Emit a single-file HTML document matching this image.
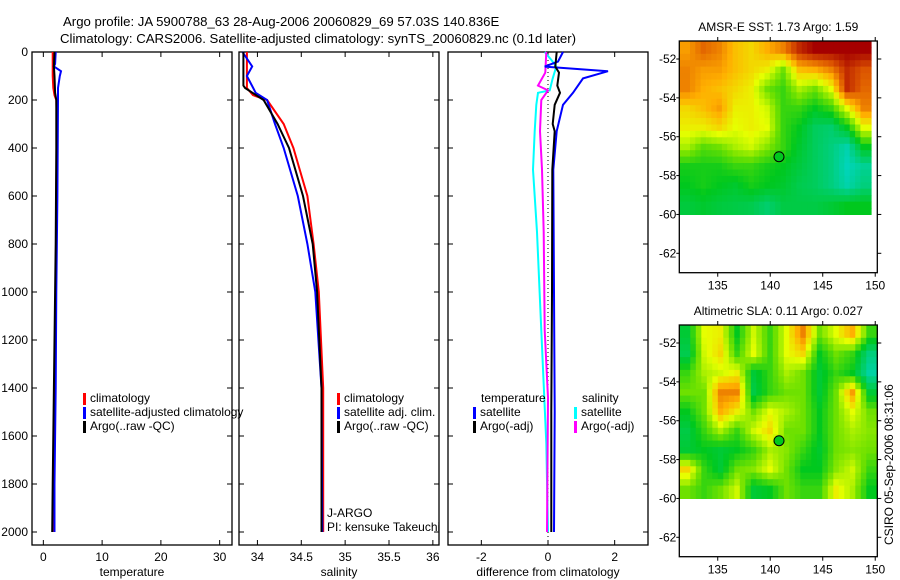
<!DOCTYPE html>
<html><head><meta charset="utf-8"><style>
html,body{margin:0;padding:0;background:#fff;}
svg{display:block;font-family:"Liberation Sans",sans-serif;}
text{font-size:12px;fill:#000;}
</style></head><body>
<svg id="chart" width="900" height="580" viewBox="0 0 900 580">
<text x="63" y="26" style="font-size:13.2px">Argo profile: JA 5900788_63 28-Aug-2006 20060829_69 57.03S 140.836E</text>
<text x="60" y="43" style="font-size:13.2px">Climatology: CARS2006. Satellite-adjusted climatology: synTS_20060829.nc (0.1d later)</text>
<text x="893" y="545" transform="rotate(-90 893 545)">CSIRO 05-Sep-2006 08:31:06</text>
</svg>
<script>
const NS="http://www.w3.org/2000/svg";
const svg=document.getElementById('chart');
// ---- data ----
const depthTicks=[0,200,400,600,800,1000,1200,1400,1600,1800,2000];
const tempTicks=[0,10,20,30];
const salTicks=[34,34.5,35,35.5,36];
const salTickLabels=["34","34.5","35","35.5","36"];
const diffTicks=[-2,0,2];
const tempClimDepth=[0,100,150,180,200,300,600,1000,1400,1800,2000];
const tempClimVal=[1.6,1.6,1.7,1.9,2.2,2.3,2.2,2.1,1.9,1.7,1.6];
const tempSatDepth=[0,50,60,80,100,150,200,600,1000,1400,1800,2000];
const tempSatVal=[2.1,2.0,1.8,3.0,2.8,2.5,2.5,2.4,2.2,2.1,1.9,1.9];
const tempArgoDepth=[0,60,100,170,200,400,800,1000,1400,1800,2000];
const tempArgoVal=[1.9,1.8,1.9,2.0,2.2,2.2,2.1,2.0,1.8,1.6,1.5];
const salClimDepth=[0,150,180,200,300,400,500,600,800,1000,1400,2000];
const salClimVal=[33.88,33.88,33.95,34.11,34.30,34.41,34.49,34.57,34.64,34.70,34.75,34.75];
const salSatDepth=[0,60,100,170,200,300,400,600,800,1000,1400,2000];
const salSatVal=[33.83,33.94,33.88,33.98,34.11,34.20,34.30,34.46,34.57,34.66,34.73,34.74];
const salArgoDepth=[0,140,150,200,300,400,600,800,1000,1400,2000];
const salArgoVal=[33.84,33.84,33.86,34.07,34.23,34.36,34.52,34.63,34.68,34.73,34.73];
const dTempSatDepth=[0,40,61,80,110,170,220,330,490,1000,1500,2000];
const dTempSatVal=[0.45,0.3,-0.1,1.8,1.05,0.75,0.45,0.26,0.16,0.18,0.2,0.18];
const dTempArgoDepth=[0,61,86,140,170,220,300,330,490,1000,1500,2000];
const dTempArgoVal=[0.26,0.22,0.33,0.28,0.36,0.2,0.14,0.2,0.13,0.12,0.1,0.1];
const dSalSatDepth=[0,33,61,110,160,170,220,330,490,750,1160,1630,2000];
const dSalSatVal=[-0.1,0.1,0.25,0.14,0.05,-0.3,-0.35,-0.4,-0.45,-0.33,-0.2,-0.05,0.0];
const dSalArgoDepth=[0,86,140,160,200,330,490,750,1160,1440,2000];
const dSalArgoVal=[-0.05,-0.08,-0.3,0.0,-0.2,-0.24,-0.18,-0.13,-0.1,0.0,-0.03];
const lonTicks=[135,140,145,150];
const latTicks=[-52,-54,-56,-58,-60,-62];
const argoLon=140.836, argoLat=-57.03;
const sstGrid=[
[.82,.88,.85,.78,.75,.8,.85,.95,1,1,1,1],
[.85,.82,.82,.78,.75,.72,.6,.78,.8,.85,.95,.9],
[.85,.8,.78,.75,.72,.6,.55,.65,.6,.7,.95,.88],
[.75,.78,.82,.72,.72,.68,.55,.55,.5,.55,.7,.85],
[.72,.72,.75,.7,.72,.7,.55,.5,.42,.4,.5,.7],
[.65,.58,.6,.65,.68,.62,.55,.48,.42,.38,.32,.5],
[.52,.52,.52,.55,.55,.52,.5,.46,.42,.38,.3,.35],
[.5,.52,.5,.48,.52,.5,.48,.44,.42,.38,.32,.38],
[.46,.48,.46,.45,.44,.4,.45,.45,.45,.47,.5,.5]];
const slaGrid=[
[.47,.7,.72,.5,.68,.55,.7,.85,.6,.7,.8,.55],
[.44,.68,.75,.55,.7,.55,.7,.75,.5,.6,.55,.38],
[.55,.65,.68,.72,.47,.55,.65,.6,.47,.55,.5,.33],
[.6,.6,.85,.85,.45,.55,.6,.6,.47,.6,.82,.47],
[.5,.6,.8,.72,.6,.7,.65,.6,.5,.6,.7,.6],
[.45,.55,.65,.55,.68,.75,.6,.6,.5,.6,.65,.62],
[.47,.5,.47,.5,.55,.65,.62,.55,.48,.6,.62,.6],
[.75,.55,.47,.6,.62,.7,.6,.5,.5,.62,.68,.55],
[.6,.55,.6,.68,.47,.5,.6,.55,.55,.72,.65,.5]];
// ---- helpers ----
function mk(tag,attrs,parent){const e=document.createElementNS(NS,tag);for(const k in attrs)e.setAttribute(k,attrs[k]);(parent||svg).appendChild(e);return e;}
const TOP=52,BOT=545;
const yD=d=>TOP+d*0.24;
function panel(name,left,right,xmin,xmax,ticks,labels,xlabel,showY){
  const sx=v=>left+(v-xmin)/(xmax-xmin)*(right-left);
  const g=mk('g',{});
  
  
  const r=mk('rect',{x:left,y:TOP,width:right-left,height:BOT-TOP,fill:'none',stroke:'#000','stroke-width':1.3},g);
  
  
  ticks.forEach((t,i)=>{
    const x=sx(t);
    mk('line',{x1:x,y1:TOP,x2:x,y2:TOP+5,stroke:'#000'},g);
    mk('line',{x1:x,y1:BOT,x2:x,y2:BOT-5,stroke:'#000'},g);
    const tx=mk('text',{x:x,y:BOT+16,'text-anchor':'middle'},g);
    tx.textContent=labels[i];
    
    
  });
  depthTicks.forEach(d=>{
    const y=yD(d);
    mk('line',{x1:left,y1:y,x2:left+5,y2:y,stroke:'#000'},g);
    mk('line',{x1:right,y1:y,x2:right-5,y2:y,stroke:'#000'},g);
    if(showY){const tx=mk('text',{x:left-4,y:y+4,'text-anchor':'end'},g);tx.textContent=d;
      
      }
  });
  const xl=mk('text',{x:(left+right)/2,y:BOT+31,'text-anchor':'middle'},g);
  xl.textContent=xlabel;
  
  
  return sx;
}
function line(sx,depths,vals,color,name,w){
  let d='';depths.forEach((dp,i)=>{d+=(i?'L':'M')+sx(vals[i]).toFixed(1)+','+yD(dp).toFixed(1);});
  const p=mk('path',{d:d,fill:'none',stroke:color,'stroke-width':w||2});
  
  
}
function legend(x,y,color,label,name){
  if(color){mk('rect',{x:x,y:y-9,width:3,height:12,fill:color});}
  const t=mk('text',{x:x+7,y:y});t.textContent=label;
  
  
}
// ---- panel 1 temperature ----
const sT=panel('temperature-panel',32,232,-1.93,32.1,tempTicks,tempTicks.map(String),'temperature',true);
line(sT,tempClimDepth,tempClimVal,'#f00','temp-climatology-line');
line(sT,tempSatDepth,tempSatVal,'#00f','temp-satellite-line');
line(sT,tempArgoDepth,tempArgoVal,'#000','temp-argo-line');
legend(83,402,'#f00','climatology','legend-climatology');
legend(83,416,'#00f','satellite-adjusted climatology','legend-satellite-adjusted');
legend(83,430,'#000','Argo(..raw -QC)','legend-argo');
// ---- panel 2 salinity ----
const sS=panel('salinity-panel',239,439,33.79,36.07,salTicks,salTickLabels,'salinity',false);
line(sS,salClimDepth,salClimVal,'#f00','sal-climatology-line');
line(sS,salSatDepth,salSatVal,'#00f','sal-satellite-line');
line(sS,salArgoDepth,salArgoVal,'#000','sal-argo-line');
legend(337,402,'#f00','climatology','legend-sal-climatology');
legend(337,416,'#00f','satellite adj. clim.','legend-sal-satellite');
legend(337,430,'#000','Argo(..raw -QC)','legend-sal-argo');
legend(320,517,null,'J-ARGO','pi-agency');
legend(320,531,null,'PI: kensuke Takeuchi','pi-name');
// ---- panel 3 difference ----
const sD=panel('difference-panel',448,648,-3,3,diffTicks,diffTicks.map(String),'difference from climatology',false);
const z=mk('line',{x1:sD(0),y1:TOP,x2:sD(0),y2:BOT,stroke:'#000','stroke-dasharray':'1,3'});


line(sD,dSalSatDepth,dSalSatVal,'#0ff','diff-sal-satellite-line');
line(sD,dSalArgoDepth,dSalArgoVal,'#f0f','diff-sal-argo-line');
line(sD,dTempSatDepth,dTempSatVal,'#00f','diff-temp-satellite-line');
line(sD,dTempArgoDepth,dTempArgoVal,'#000','diff-temp-argo-line');
legend(474,402,null,'temperature','legend-temperature-head');
legend(473,416,'#00f','satellite','legend-diff-temp-sat');
legend(473,430,'#000','Argo(-adj)','legend-diff-temp-argo');
legend(575,402,null,'salinity','legend-salinity-head');
legend(574,416,'#0ff','satellite','legend-diff-sal-sat');
legend(574,430,'#f0f','Argo(-adj)','legend-diff-sal-argo');
// ---- maps ----
const stops=[[0,[0,110,255]],[.25,[0,215,225]],[.5,[0,200,30]],[.6,[110,225,0]],[.7,[230,255,0]],[.8,[255,175,0]],[.9,[220,85,0]],[1,[165,0,0]]];
function cmap(v){for(let i=1;i<stops.length;i++){if(v<=stops[i][0]){const a=stops[i-1],b=stops[i],t=(v-a[0])/(b[0]-a[0]);return 'rgb('+a[1].map((c,k)=>Math.round(c+(b[1][k]-c)*t)).join(',')+')';}}return 'rgb(165,0,0)';}
function sample(grid,r,c){ // bilinear sample at fractional cell coords (cell centers at integer+0.5)
  const R=grid.length,C=grid[0].length;
  let y=Math.min(Math.max(r-0.5,0),R-1),x=Math.min(Math.max(c-0.5,0),C-1);
  const y0=Math.floor(y),x0=Math.floor(x),y1=Math.min(y0+1,R-1),x1=Math.min(x0+1,C-1),fy=y-y0,fx=x-x0;
  return grid[y0][x0]*(1-fx)*(1-fy)+grid[y0][x1]*fx*(1-fy)+grid[y1][x0]*(1-fx)*fy+grid[y1][x1]*fx*fy;
}
function map(name,title,top,grid,lonEnd){
  const L=679.3,R=877.3,B=top+231.7;
  const sx=lon=>L+(lon-131.34)*10.5;
  const sy=lat=>top+18+(-52-lat)*19.43;
  const g=mk('g',{});
  
  
  const rows=grid.length,cols=grid[0].length,S=3;
  const lonW=(lonEnd-131.34)/(cols*S);
  for(let ri=0;ri<rows*S;ri++)for(let ci=0;ci<cols*S;ci++){
    const v=sample(grid,(ri+0.5)/S,(ci+0.5)/S);
    const x0=sx(131.34+ci*lonW),x1=sx(131.34+(ci+1)*lonW);
    const latA=-51.07-ri/S*(8.93/rows), latB=-51.07-(ri+1)/S*(8.93/rows);
    const yTop=sy(latA),y1=sy(latB);
    const c=mk('rect',{x:x0.toFixed(1),y:yTop.toFixed(1),width:(x1-x0+0.6).toFixed(1),height:(y1-yTop+0.6).toFixed(1),fill:cmap(v)},g);
    
    
  }
  const fr=mk('rect',{x:L,y:top,width:R-L,height:B-top,fill:'none',stroke:'#000','stroke-width':1.3},g);
  
  
  lonTicks.forEach(t=>{const x=sx(t);mk('line',{x1:x,y1:top,x2:x,y2:top-4,stroke:'#000'},g);mk('line',{x1:x,y1:B,x2:x,y2:B+4,stroke:'#000'},g);
    const tx=mk('text',{x:x,y:B+17,'text-anchor':'middle'},g);tx.textContent=t;
    
    });
  latTicks.forEach(t=>{const y=sy(t);mk('line',{x1:L,y1:y,x2:L-3,y2:y,stroke:'#000'},g);mk('line',{x1:R,y1:y,x2:R+4,y2:y,stroke:'#000'},g);
    const tx=mk('text',{x:L-3,y:y+4,'text-anchor':'end'},g);tx.textContent=t;
    
    });
  const tt=mk('text',{x:(L+R)/2,y:top-10,'text-anchor':'middle'},g);tt.textContent=title;
  
  
  const m=mk('circle',{cx:sx(argoLon),cy:sy(argoLat),r:5,fill:'#00c81e',stroke:'#000','stroke-width':1},g);
  
  
}
map('sst-map','AMSR-E SST: 1.73 Argo: 1.59',41,sstGrid,149.6);
map('sla-map','Altimetric SLA: 0.11 Argo: 0.027',325,slaGrid,150.2);
</script>
</body></html>
